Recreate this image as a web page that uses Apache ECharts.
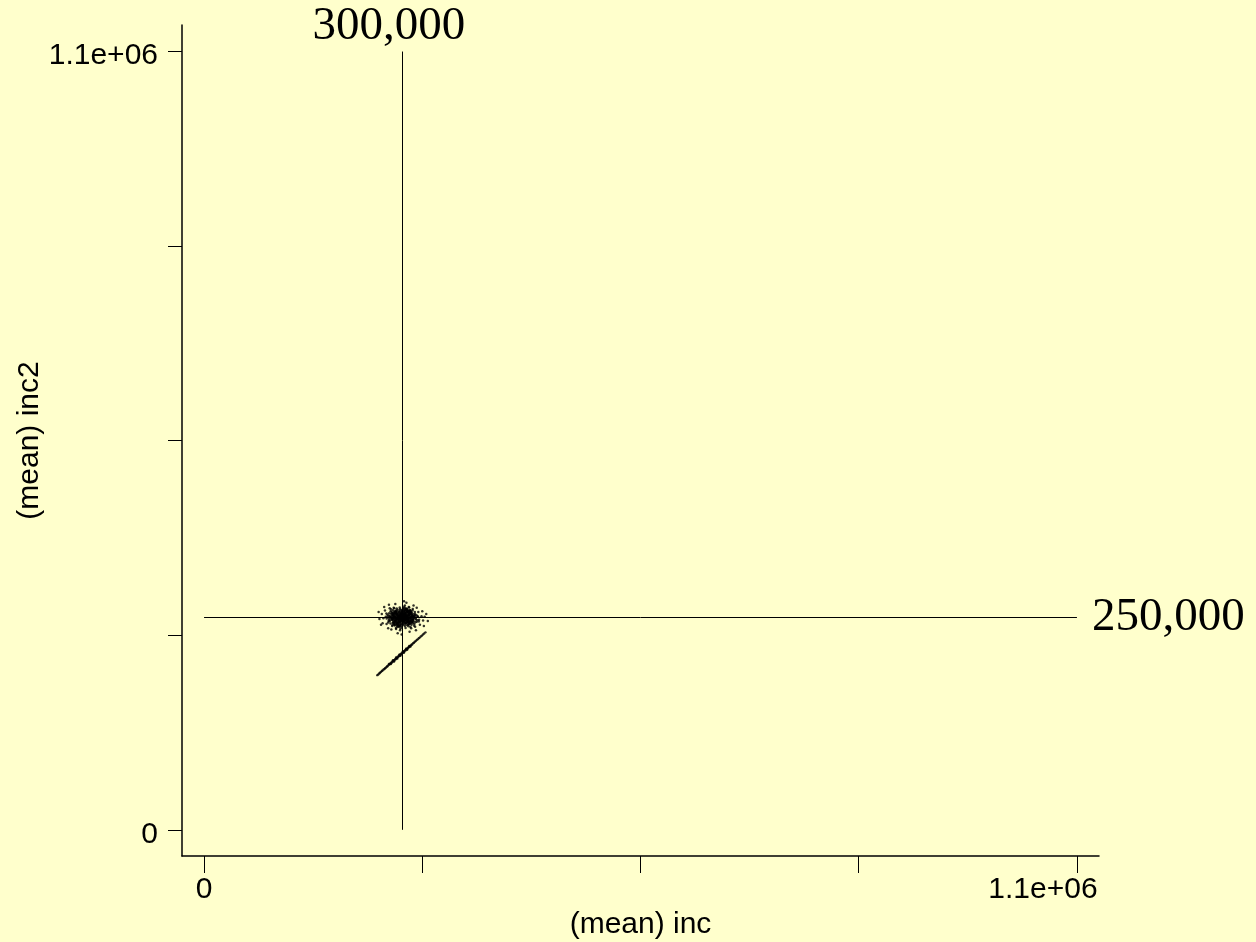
<!DOCTYPE html>
<html>
<head>
<meta charset="utf-8">
<script src="https://cdn.jsdelivr.net/npm/echarts@6/dist/echarts.min.js"></script>
<style>
html,body{margin:0;padding:0;background:#ffffcc;}
#chart{width:1256px;height:942px;}
</style>
</head>
<body>
<div id="chart"></div>
<script>
// ---- texts ----
const xAxisTitle = '(mean) inc';
const yAxisTitle = '(mean) inc2';

// ---- axis ticks / labels ----
const axisTickValues = [0, 275000, 550000, 825000, 1100000];
const axisLabelValues = [0, 1100000];
const axisLabelTexts = ['0', '1.1e+06'];

// ---- reference lines ----
const refLineInc = 250000;       // vertical line position (x)
const refLineIncText = '300,000';
const refLineInc2 = 300000;      // horizontal line position (y)
const refLineInc2Text = '250,000';
const refLineSpan = [0, 1100000];

// ---- cloud of points around (250k, 300k) ----
const cloudPoints = [
  [250000,300000],[251000,302000],[248000,301000],[253000,299000],[249000,297000],
  [252000,303000],[247000,298000],[254000,301000],[246000,302000],[251000,296000],
  [248000,304000],[255000,298000],[245000,299000],[252000,295000],[249000,305000],
  [253000,304000],[246000,296000],[255000,303000],[247000,305000],[254000,296000],
  [250000,298000],[249000,301000],[252000,300000],[247000,300000],[250000,303000],
  [251000,299000],[248000,298000],[253000,302000],[245000,303000],[255000,300000],
  [250000,305000],[249000,295000],[256000,299000],[244000,301000],[251000,306000],
  [252000,297000],[248000,303000],[254000,304000],[246000,299000],[253000,297000],
  [258000,302000],[242000,299000],[257000,294000],[243000,305000],[252000,309000],
  [249000,291000],[260000,297000],[240000,302000],[256000,307000],[244000,293000],
  [259000,305000],[241000,295000],[254000,292000],[246000,308000],[261000,301000],
  [239000,298000],[253000,311000],[247000,290000],[258000,293000],[242000,306000],
  [262000,296000],[238000,304000],[255000,310000],[245000,289000],[263000,302000],
  [237000,299000],[257000,309000],[243000,291000],[260000,307000],[240000,294000],
  [251000,312000],[248000,288000],[259000,291000],[241000,308000],[264000,299000],
  [236000,300000],[256000,289000],[244000,311000],[262000,306000],[238000,293000],
  [250000,308000],[250000,293000],[257000,300000],[243000,299000],[255000,294000],
  [245000,306000],[258000,304000],[242000,296000],[253000,307000],[247000,293000],
  [259000,299000],[241000,301000],[256000,303000],[244000,297000],[252000,293000],
  [248000,307000],[260000,300000],[240000,299000],[254000,306000],[246000,294000],
  [251000,310000],[249000,310000],[261000,295000],[239000,305000],[257000,297000],
  [243000,303000],[253000,288000],[247000,312000],[262000,300000],[238000,301000],
  [256000,309000],[244000,291000],[259000,294000],[241000,306000],[254000,312000],
  [246000,288000],[261000,308000],[239000,292000],[263000,294000],[237000,306000],
  [252000,305000],[248000,295000],[257000,307000],[243000,293000],[255000,302000],
  [245000,298000],[258000,291000],[242000,309000],[260000,310000],[240000,290000],
  [266000,303000],[233000,298000],[265000,291000],[235000,309000],[269000,301000],
  [231000,304000],[268000,294000],[232000,293000],[258000,315000],[242000,284000],
  [253000,317000],[247000,282000],[271000,297000],[229000,301000],[263000,312000],
  [237000,288000],[274000,302000],[226000,299000],[261000,285000],[239000,314000],
  [270000,308000],[230000,291000],[276000,296000],[224000,305000],[266000,287000],
  [234000,313000],[278000,301000],[221000,298000],[255000,321000],[244000,278000],
  [272000,290000],[228000,310000],[264000,317000],[236000,283000],[282000,295000],
  [220000,308000],[268000,314000],[232000,285000],[259000,280000],[241000,319000],
  [275000,309000],[225000,292000],[252000,323000],[249000,276000],[277000,288000],
  [227000,315000],[267000,282000],[233000,318000],[280000,305000],[223000,290000],
  [251300,299300],[247400,302200],[253800,300400],[245900,297100],[255700,301800],
  [243700,303600],[252400,293900],[248200,306800],[257200,296700],[242400,298800],
  [258900,302700],[241600,304900],[254600,307300],[246100,292200],[250800,291400],
  [249500,308200],[259700,294900],[240800,295600],[256100,291800],[243300,307900],
  [260800,300900],[239700,299700],[253100,309600],[247800,290100],[261600,297600],
  [238900,302800],[257900,306100],[242600,293400],[251900,303100],[248600,298100],
  [254300,297400],[246700,301400],[252800,305200],[244900,295300],[256600,299100],
  [244000,300600],[250300,295600],[249100,303800],[255200,304400],[245200,305500],
  [258100,298400],[241200,301700],[253600,290900],[247000,310100],[259300,303900],
  [240400,296900],[262400,301300],[237200,298100],[255900,294600],[244300,291600],
  [250600,301100],[248900,299600],[252100,298200],[247100,299200],[251600,302600],
  [249800,297300],[253400,301500],[246400,303100],[254900,299700],[245600,300200],
  [252600,296100],[248000,296500],[250900,304700],[248400,304300],[254100,302900],
  [244600,301900],[256800,302300],[243100,297800],[257500,304000],[242900,304200],
  [255500,296300],[245400,294100],[258600,295900],[241900,296200],[260200,298900],
  [239300,301000],[259000,305800],[240200,305600],[261900,303500],[238500,295800],
  [256300,308700],[243900,290700],[251200,289700],[249600,310600],[263400,296800],
  [236900,303400],[262000,293700],[237800,306500],[264500,302100],[235100,299300],
  [257000,294100],[242200,306900],[252300,307600],[247300,293600],[254500,292600],
  [245800,308600],[260500,305000],[240000,294500],[258300,293000],[241400,307400],
  [264200,304600],[234700,296200],[266700,298600],[233900,302300],[263100,292100],
  [236200,308100],[259400,310800],[240100,288800],[255300,312900],[244200,286600],
  [250700,313600],[249100,286100],[261400,289800],[238100,310400],[267800,303200],
  [232600,295500],[265600,307700],[235000,291700],[268900,296100],[231400,300800],
  [262700,309900],[237500,289400],[257600,287600],[242800,312700],[253900,285400],
  [246600,314200],[266300,293200],[233200,306200],[269500,301600],[230100,298800],
  [260100,286700],[239600,313000],[264800,288500],[235600,311800],[252200,315400],
  [247500,284200],[270600,294600],[229800,305900],[258500,314300],[241800,285300],
  [263600,301100],[236700,297400],[261100,306400],[238300,293100],[262900,296400],
  [237900,303900],[259800,291700],[240500,308800],[256900,310200],[243600,289100],
  [264100,294800],[235400,305400],[260900,292800],[239400,307600],[265700,300400],
  [234100,300900],[258700,309300],[241100,290200],[254800,311400],[245700,288200],
  [262300,303300],[237400,296500],[261500,295400],[238700,304800],[259100,307800],
  [240700,292300],[257300,289900],[242300,310500],[263800,298100],[236100,301600],
  [266000,304900],[233600,294700],[256000,312000],[243400,287700],[267100,297300],
  [232400,302900],[260300,309000],[239200,290900],[253200,313000],[246300,287100]
];

// ---- tight diagonal band of points (inc2 close to inc) ----
const diagonalPoints = [
  [218300,218600],[219500,219700],[220800,220900],[221600,221900],[222900,223000],
  [224100,224400],[225000,225100],[226200,226600],[227400,227300],[228100,228500],
  [229300,229400],[230500,230900],[231200,231100],[232400,232900],[233600,233500],
  [234300,234900],[235100,235000],[236000,236600],[236800,236500],[237700,238300],
  [238500,238200],[239200,239900],[240000,239700],[240900,241600],[241600,241200],
  [242400,243100],[243100,242700],[244000,244700],[244800,244300],[245500,246200],
  [246300,245800],[247000,247700],[247900,247400],[248600,249300],[249400,248900],
  [250100,250800],[250900,250400],[251700,252400],[252400,251900],[253200,253900],
  [254000,253600],[254800,255400],[255500,255100],[256300,256900],[257100,256800],
  [257900,258400],[258800,258500],[259600,260000],[260500,260300],[261300,261700],
  [262200,262000],[263400,263700],[264500,264400],[265600,265900],[266800,266700],
  [268000,268300],[269300,269200],[270600,270800],[271800,271700],[273100,273300],
  [274500,274400],[275900,276000],[277400,277400],[279000,279100],
  [233000,234400],[235500,234200],[238000,239600],[239500,238000],[242000,243600],
  [243500,241900],[246000,247500],[247500,245900],[250500,252000],[252000,250400],
  [254500,255900],[256000,254600],[258500,259700],[260000,258900]
];

const sansFont = '"Liberation Sans", Arial, sans-serif';
const serifFont = '"Liberation Serif", "Times New Roman", serif';
const tickFontSize = 30;

function labelText(v) {
  const i = axisLabelValues.indexOf(v);
  return i >= 0 ? axisLabelTexts[i] : '';
}

const chart = echarts.init(document.getElementById('chart'), null, {renderer: 'canvas'});
chart.setOption({
  backgroundColor: '#ffffcc',
  animation: false,
  grid: {left: 182, top: 25, width: 917, height: 831, outerBoundsMode: 'none', containLabel: false},
  xAxis: {
    type: 'value',
    min: -27800, max: 1127800,
    name: xAxisTitle, nameLocation: 'middle', nameGap: 54,
    nameMoveOverlap: false,
    nameTextStyle: {fontSize: tickFontSize, fontFamily: sansFont, color: '#000'},
    axisLine: {show: true, onZero: false, lineStyle: {color: '#000', width: 1.5}},
    axisTick: {show: true, customValues: axisTickValues, length: 17, lineStyle: {color: '#000', width: 1}},
    axisLabel: {
      customValues: axisLabelValues,
      margin: 19, fontSize: tickFontSize, fontFamily: sansFont, color: '#000',
      formatter: v => v === axisLabelValues[axisLabelValues.length - 1] ? '{shift|' + labelText(v) + '}' : labelText(v),
      rich: {shift: {fontSize: tickFontSize, fontFamily: sansFont, color: '#000', padding: [0, 68, 0, 0]}}
    },
    splitLine: {show: false}
  },
  yAxis: {
    type: 'value',
    min: -37000, max: 1137500,
    name: yAxisTitle, nameLocation: 'middle', nameGap: 137,
    nameMoveOverlap: false,
    nameTextStyle: {fontSize: tickFontSize, fontFamily: sansFont, color: '#000'},
    axisLine: {show: true, onZero: false, lineStyle: {color: '#000', width: 1.5}},
    axisTick: {show: true, customValues: axisTickValues, length: 14, lineStyle: {color: '#000', width: 1}},
    axisLabel: {
      customValues: axisLabelValues,
      margin: 24, fontSize: tickFontSize, fontFamily: sansFont, color: '#000',
      formatter: v => '{down|' + labelText(v) + '}',
      rich: {down: {fontSize: tickFontSize, fontFamily: sansFont, color: '#000', padding: [9, 0, 0, 0]}}
    },
    splitLine: {show: false}
  },
  series: [
    {
      type: 'scatter',
      data: cloudPoints,
      symbol: 'circle', symbolSize: 2.5,
      itemStyle: {color: '#000'},
      silent: true,
      markLine: {
        silent: true, symbol: 'none', animation: false,
        lineStyle: {color: '#000', width: 1, type: 'solid'},
        label: {show: true, position: 'end', formatter: '{b}', fontSize: 47, fontFamily: serifFont, color: '#000'},
        data: [
          [{coord: [refLineInc, refLineSpan[0]], name: refLineIncText, label: {distance: 1, padding: [0, 27, 0, 0]}},
           {coord: [refLineInc, refLineSpan[1]]}],
          [{coord: [refLineSpan[0], refLineInc2], name: refLineInc2Text, label: {distance: 15}},
           {coord: [refLineSpan[1], refLineInc2]}]
        ]
      }
    },
    {
      type: 'scatter',
      data: diagonalPoints,
      symbol: 'circle', symbolSize: 2.4,
      itemStyle: {color: '#000'},
      silent: true
    }
  ]
});
</script>
</body>
</html>
